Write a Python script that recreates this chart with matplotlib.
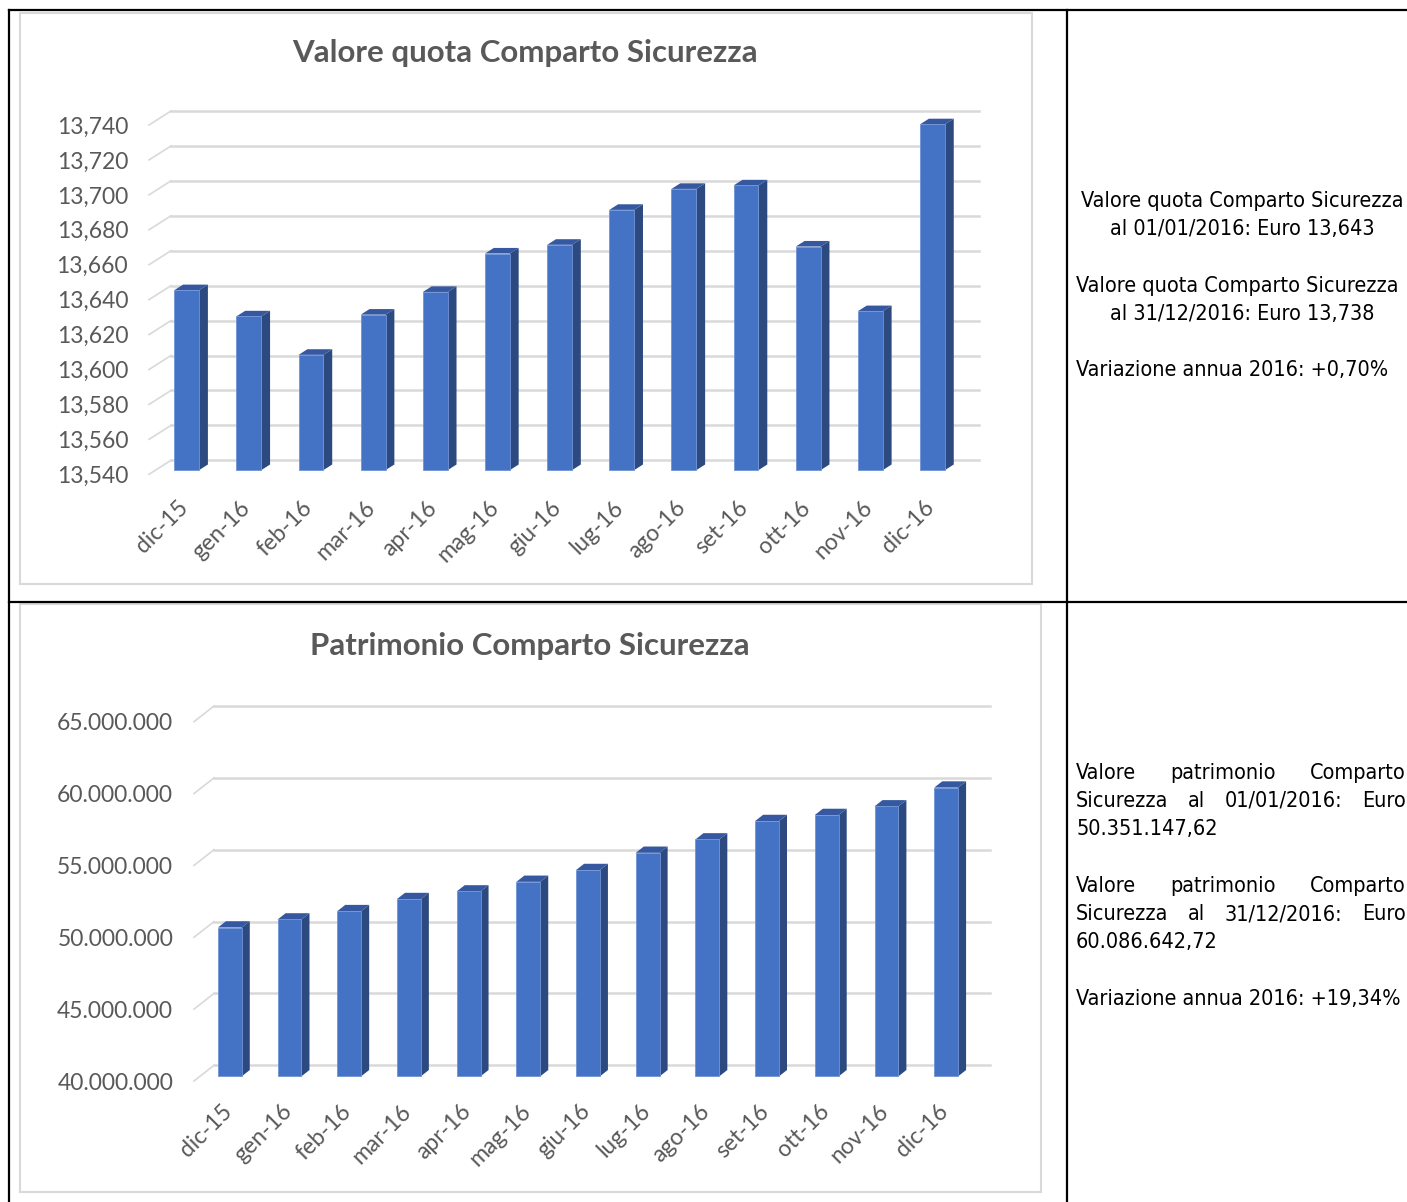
import matplotlib
matplotlib.use('Agg')
import matplotlib.pyplot as plt
from matplotlib.patches import Polygon, Rectangle
from matplotlib.lines import Line2D
from matplotlib.transforms import ScaledTranslation

W, H = 1407, 1202
DPI = 100

months = ['dic-15', 'gen-16', 'feb-16', 'mar-16', 'apr-16', 'mag-16', 'giu-16',
          'lug-16', 'ago-16', 'set-16', 'ott-16', 'nov-16', 'dic-16']

# valore quota (Euro)
quota = [13.643, 13.628, 13.606, 13.629, 13.642, 13.664, 13.669,
         13.689, 13.701, 13.703, 13.668, 13.631, 13.738]
quota_ticks = [13.540, 13.560, 13.580, 13.600, 13.620, 13.640,
               13.660, 13.680, 13.700, 13.720, 13.740]

# patrimonio (Euro)
patrimonio = [50351147.62, 50910000, 51490000, 52330000, 52860000, 53530000,
              54350000, 55550000, 56480000, 57760000, 58180000, 58780000,
              60086642.72]
patrimonio_ticks = [40000000, 45000000, 50000000, 55000000, 60000000, 65000000]

quota_text = ['Valore quota Comparto Sicurezza', 'al 01/01/2016: Euro 13,643',
              'Valore quota Comparto Sicurezza', 'al 31/12/2016: Euro 13,738',
              'Variazione annua 2016: +0,70%']
patrimonio_text = ['Valore patrimonio Comparto', 'Sicurezza al 01/01/2016: Euro',
                   '50.351.147,62',
                   'Valore patrimonio Comparto', 'Sicurezza al 31/12/2016: Euro',
                   '60.086.642,72',
                   'Variazione annua 2016: +19,34%']

GRID = '#D9D9D9'
GREY = '#595959'
FRONT = '#4472C4'
SIDE = '#2C4A7F'
TOP = '#3558A0'
CHART_FONT = 'Lato'
CELL_FONT = 'DejaVu Sans'
TICK_SIZE = 16.5


def fx(px):
    return px / W


def fy(py):
    return 1 - py / H


def draw_3d_bars(fig, front_px, depth_px, values, ticks, fmt, lab_off):
    """front_px = (x_left, x_right, y_bottom, y_top) of the front plane in pixels."""
    xl, xr, yb, yt = front_px
    ax = fig.add_axes([fx(xl), fy(yb), (xr - xl) / W, (yb - yt) / H])
    n = len(values)
    ymin, ymax = ticks[0], ticks[-1]
    ax.set_xlim(-0.5, n - 0.5)
    ax.set_ylim(ymin, ymax)
    for s in ax.spines.values():
        s.set_visible(False)
    ax.set_xticks([])
    ax.set_yticks(ticks)
    ax.set_yticklabels([fmt(t) for t in ticks])
    ax.tick_params(axis='y', length=0, pad=15, labelsize=TICK_SIZE, labelcolor=GREY)
    for lab in ax.get_yticklabels():
        lab.set_fontfamily(CHART_FONT)
    ax.patch.set_alpha(0)

    # depth vector in data units
    dx = depth_px[0] / ((xr - xl) / n)
    dy = depth_px[1] / ((yb - yt) / (ymax - ymin))

    # back gridlines with perspective diagonal
    for t in ticks:
        ax.add_line(Line2D([-0.5, -0.5 + dx], [t, t + dy], color=GRID, lw=1.2,
                           clip_on=False, zorder=1))
        ax.add_line(Line2D([-0.5 + dx, n - 0.5 + dx], [t + dy, t + dy],
                           color=GRID, lw=1.8, clip_on=False, zorder=1))

    width = 0.4
    f0, fd = 0.3, 0.4
    xs = [i + f0 * dx for i in range(n)]
    heights = [v - ymin for v in values]
    ax.bar(xs, heights, width=width, bottom=ymin + f0 * dy, color=FRONT,
           edgecolor='#6F93D6', linewidth=0.6, zorder=3, clip_on=False)
    for x, v in zip(xs, values):
        x0, x1 = x - width / 2, x + width / 2
        y0, y1 = ymin + f0 * dy, v + f0 * dy
        side = [(x1, y0), (x1, y1), (x1 + fd * dx, y1 + fd * dy), (x1 + fd * dx, y0 + fd * dy)]
        top = [(x0, y1), (x1, y1), (x1 + fd * dx, y1 + fd * dy), (x0 + fd * dx, y1 + fd * dy)]
        ax.add_patch(Polygon(side, closed=True, facecolor=SIDE, edgecolor='none',
                             zorder=2, clip_on=False))
        ax.add_patch(Polygon(top, closed=True, facecolor=TOP, edgecolor='none',
                             zorder=2, clip_on=False))

    off = ax.transData + ScaledTranslation(lab_off[0] / DPI, lab_off[1] / DPI,
                                           fig.dpi_scale_trans)
    for i, m in enumerate(months):
        ax.text(i, ymin, m, rotation=45, ha='right', va='center',
                rotation_mode='anchor', transform=off, fontsize=TICK_SIZE,
                color=GREY, fontfamily=CHART_FONT)
    return ax


def justified_line(fig, line, x0, x1, y, **kw):
    words = line.split()
    r = fig.canvas.get_renderer()
    texts = [fig.text(0, fy(y), w, ha='left', va='center', **kw) for w in words]
    widths = [t.get_window_extent(r).width for t in texts]
    gap = (x1 - x0 - sum(widths)) / (len(words) - 1)
    x = x0
    for t, wd in zip(texts, widths):
        t.set_x(fx(x))
        x += wd + gap


fig = plt.figure(figsize=(W / DPI, H / DPI), dpi=DPI)

# table borders
for coords in ([(9, 1407), (10, 10)], [(9, 1407), (602, 602)],
               [(9, 9), (10, 1202)], [(1067, 1067), (10, 1202)]):
    xs_, ys_ = coords
    fig.add_artist(Line2D([fx(v) for v in xs_], [fy(v) for v in ys_],
                          color='black', lw=1.6))

# chart frames
fig.add_artist(Rectangle((fx(20), fy(584)), (1032 - 20) / W, (584 - 13) / H,
                         fill=False, edgecolor=GRID, lw=1.5))
fig.add_artist(Rectangle((fx(20), fy(1192)), (1041 - 20) / W, (1192 - 604) / H,
                         fill=False, edgecolor=GRID, lw=1.5))

# chart 1: valore quota
draw_3d_bars(fig, (149, 957, 474.3, 125), (22, 14), quota, quota_ticks,
             lambda t: f'{t:.3f}'.replace('.', ','), (5, -30))
fig.text(fx(525), fy(53), 'Valore quota Comparto Sicurezza', ha='center',
         va='center', fontsize=22.5, fontweight='bold', color=GREY,
         fontfamily=CHART_FONT)

# chart 2: patrimonio
draw_3d_bars(fig, (194, 970, 1081, 721.7), (20, 15.7), patrimonio,
             patrimonio_ticks, lambda t: f'{t:,.0f}'.replace(',', '.'), (5, -27))
fig.text(fx(529.5), fy(646), 'Patrimonio Comparto Sicurezza', ha='center',
         va='center', fontsize=22.5, fontweight='bold', color=GREY,
         fontfamily=CHART_FONT)

# right column, first cell
cell_kw = dict(fontsize=15.5, color='black', fontfamily=CELL_FONT,
               fontstretch='condensed')
ys1 = [201, 229, 286, 314, 370]
for i, (line, y) in enumerate(zip(quota_text, ys1)):
    if i in (2, 4):
        fig.text(fx(1076), fy(y), line, ha='left', va='center', **cell_kw)
    else:
        fig.text(fx(1242), fy(y), line, ha='center', va='center', **cell_kw)

# right column, second cell (justified)
ys2 = [773, 801, 829, 886, 914, 942, 999]
for i, (line, y) in enumerate(zip(patrimonio_text, ys2)):
    if i in (0, 1, 3, 4):
        justified_line(fig, line, 1076, 1406, y, **cell_kw)
    else:
        fig.text(fx(1076), fy(y), line, ha='left', va='center', **cell_kw)

fig.savefig('out.png', dpi=DPI)
